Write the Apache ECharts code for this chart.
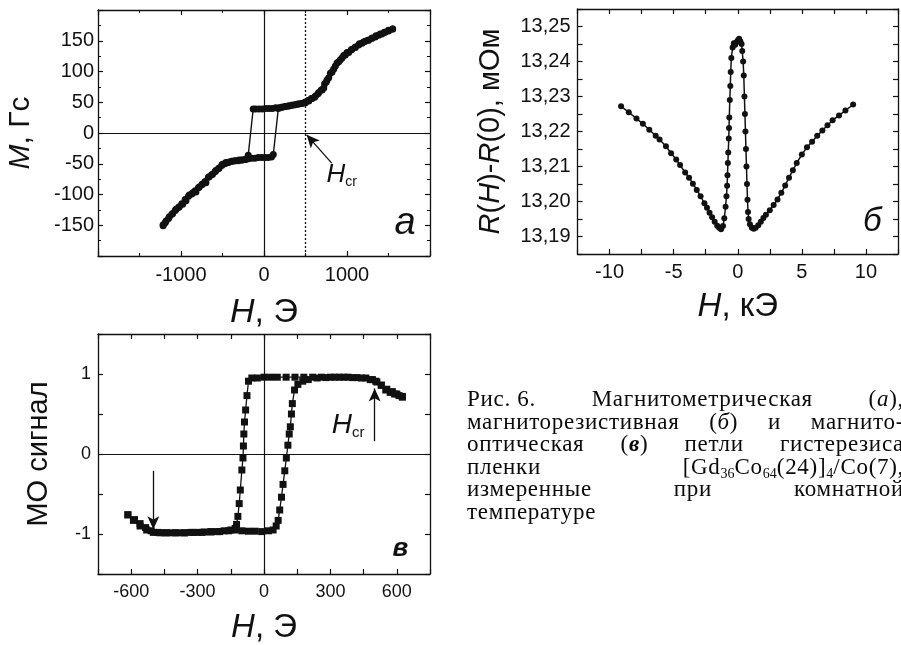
<!DOCTYPE html>
<html><head><meta charset="utf-8">
<script src="https://cdn.jsdelivr.net/npm/echarts@6/dist/echarts.min.js"></script>
<style>
html,body{margin:0;padding:0;background:#fff;overflow:hidden;width:901px;height:645px;}
#chart{position:absolute;left:0;top:0;width:901px;height:645px;}
#cap{position:absolute;left:467px;top:388px;width:437px;font-family:"Liberation Serif","DejaVu Serif",serif;font-size:23px;letter-spacing:0.7px;line-height:22.6px;color:#0a0a0a;}
#cap .j{text-align:justify;text-align-last:justify;}
#cap .k{display:inline-block;}
#cap sub{font-size:14px;vertical-align:-4px;line-height:0;letter-spacing:0;}
</style></head>
<body>
<div id="chart"></div>
<div id="cap">
<div class="j"><span class="k">Рис. 6.</span> Магнитометрическая (<i>а</i>),</div>
<div class="j">магниторезистивная (<i>б</i>) и магнито-</div>
<div class="j">оптическая (<b><i>в</i></b>) петли гистерезиса</div>
<div class="j">пленки [Gd<sub>36</sub>Co<sub>64</sub>(24)]<sub>4</sub>/Co(7),</div>
<div class="j">измеренные при комнатной</div>
<div>температуре</div>
</div>
<script>
// ---- panel а: magnetometric loop (H, Э ; M, Гс)
const aDownH = [1550,1500,1450,1400,1350,1300,1250,1200,1150,1100,1050,1000,960,920,880,840,800,760,730,700,660,620,580,540,500,460,420,380,340,300,260,220,180,140,100,60,20,-20,-60,-100,-130,-190,-230,-270,-310,-350,-390,-430,-470,-510,-550,-590,-630,-670,-710,-750,-790,-830,-870,-910,-950,-990,-1030,-1070,-1110,-1150,-1190,-1215];
const aDownM = [169,167,164,161,158,154,151,148,145,140,135,131,126,119,114,104,97,86,80,70,66,60,56,52,49,48,47,46,45,44,43,42,41,41,40,40,40,39,39,39,39,-36,-43,-44,-45,-45,-46,-48,-50,-53,-58,-63,-68,-72,-79,-84,-89,-94,-99,-103,-108,-115,-121,-126,-132,-139,-146,-151];
const aUpH = [-1215,-1180,-1140,-1100,-1060,-1020,-980,-940,-900,-860,-820,-780,-740,-700,-660,-620,-580,-540,-500,-460,-420,-380,-340,-300,-260,-220,-190,-150,-110,-70,-30,10,50,90,112,173,210,250,290,330,370,410,450,490,530,570,610,650,690,720,750,780,820,860,900,940,980,1020,1060,1100,1140,1180,1220,1260,1300,1340,1380,1420,1460,1500,1550];
const aUpM = [-149,-143,-136,-131,-124,-120,-116,-110,-101,-97,-96,-88,-83,-81,-71,-67,-61,-57,-51,-48,-47,-46,-45,-44,-44,-43,-42,-41,-41,-40,-40,-40,-40,-39,-35,40,42,43,44,45,46,47,48,50,53,56,58,64,70,73,83,90,99,109,116,122,127,131,136,139,143,146,149,151,154,156,159,161,164,166,169];
const aXTicks = [-1000, 0, 1000];
const aYTicks = [-150, -100, -50, 0, 50, 100, 150];
const aHcr = 500;

// ---- panel б: magnetoresistance (H, кЭ ; R, мОм)
const bH = [-9.1,-8.5,-7.9,-7.4,-6.9,-6.4,-6.1,-5.6,-5.2,-4.8,-4.5,-4.1,-3.8,-3.5,-3.2,-2.9,-2.6,-2.4,-2.2,-2.0,-1.8,-1.6,-1.45,-1.3,-1.15,-1.05,-0.95,-0.88,-0.83,-0.8,-0.77,-0.74,-0.7,-0.68,-0.66,-0.62,-0.58,-0.55,-0.5,-0.4,-0.3,-0.2,-0.1,0,0.1,0.2,0.3,0.35,0.42,0.47,0.52,0.56,0.6,0.64,0.68,0.72,0.76,0.8,0.85,0.95,1.1,1.25,1.4,1.6,1.8,2.0,2.2,2.5,2.8,3.1,3.4,3.7,4.0,4.3,4.6,5.0,5.4,5.8,6.2,6.6,7.0,7.4,7.9,8.4,9.0];
const bR = [13.2272,13.2255,13.2237,13.2222,13.2205,13.2188,13.2177,13.2158,13.2138,13.2120,13.2104,13.2083,13.2068,13.2051,13.2033,13.2015,13.1995,13.1982,13.1968,13.1955,13.1942,13.1931,13.1925,13.1921,13.1930,13.1952,13.1985,13.2015,13.2045,13.2075,13.2110,13.2140,13.2180,13.2210,13.2240,13.2290,13.2330,13.2370,13.2410,13.2440,13.2452,13.2448,13.2455,13.2460,13.2465,13.2458,13.2450,13.2430,13.2400,13.2360,13.2300,13.2250,13.2200,13.2150,13.2100,13.2050,13.2005,13.1970,13.1950,13.1935,13.1925,13.1922,13.1925,13.1932,13.1942,13.1953,13.1962,13.1975,13.1990,13.2006,13.2025,13.2046,13.2068,13.2089,13.2110,13.2134,13.2155,13.2171,13.2188,13.2203,13.2218,13.2232,13.2246,13.2260,13.2277];
const bXTicks = [-10, -5, 0, 5, 10];
const bYTicks = [13.19, 13.20, 13.21, 13.22, 13.23, 13.24, 13.25];

// ---- panel в: magneto-optical loop (H, Э ; signal)
const cDownH = [625,610,590,570,550,530,510,490,460,420,380,340,300,260,220,180,140,100,60,30,0,-30,-55,-70,-77,-83,-88,-91,-93,-95,-100,-107,-112,-118,-124,-130,-150,-180,-210,-240,-270,-300,-330,-360,-390,-420,-450,-480,-510,-535,-560,-585,-615];
const cDownS = [0.71,0.73,0.75,0.77,0.80,0.86,0.90,0.93,0.95,0.955,0.96,0.96,0.96,0.96,0.96,0.96,0.96,0.96,0.96,0.96,0.96,0.95,0.95,0.91,0.73,0.55,0.40,0.25,0.10,-0.05,-0.20,-0.45,-0.62,-0.78,-0.88,-0.93,-0.95,-0.96,-0.97,-0.97,-0.975,-0.98,-0.98,-0.985,-0.985,-0.985,-0.985,-0.98,-0.96,-0.92,-0.87,-0.82,-0.76];
const cUpH = [-615,-590,-560,-530,-500,-470,-440,-400,-360,-320,-280,-240,-200,-160,-130,-100,-70,-40,-10,20,41,55,64,71,79,86,94,101,108,114,119,124,128,138,153,175,200,240,280,320,360,400,440,480,505,530,555,580,600,625];
const cUpS = [-0.76,-0.83,-0.90,-0.95,-0.98,-0.985,-0.985,-0.985,-0.985,-0.98,-0.98,-0.975,-0.97,-0.96,-0.95,-0.96,-0.965,-0.965,-0.97,-0.96,-0.95,-0.90,-0.83,-0.70,-0.54,-0.38,-0.21,-0.05,0.11,0.25,0.34,0.50,0.63,0.80,0.87,0.91,0.93,0.95,0.955,0.96,0.96,0.955,0.95,0.93,0.91,0.86,0.81,0.78,0.75,0.72];
const cXTicks = [-600, -300, 0, 300, 600];
const cYTicks = [-1, 0, 1];
const cHcr = 500;

const INK = '#111';
const SANS = '"Liberation Sans", Arial, sans-serif';
const zip = (xs, ys) => xs.map((x, i) => [x, ys[i]]);
const pick = (ticks, fmt) => v => ticks.some(t => Math.abs(t - v) < 1e-7) ? fmt(v) : '';
const plain = v => String(v);
const comma = v => v.toFixed(2).replace('.', ',');

function baseAxis(grid, pos, min, max, interval, minor, isMain, ticks, fmt, fs, margin) {
  return {
    type: 'value', gridIndex: grid, position: pos, min, max, interval,
    axisLine: { show: true, onZero: false, lineStyle: { color: INK, width: 1.3 } },
    axisTick: { show: true, inside: true, length: 5, lineStyle: { color: INK, width: 1.2 } },
    minorTick: { show: minor > 1, splitNumber: minor || 2, length: 3, lineStyle: { color: INK, width: 1 } },
    splitLine: { show: false }, minorSplitLine: { show: false },
    axisLabel: isMain ? { show: true, formatter: pick(ticks, fmt), fontFamily: SANS, fontSize: fs, color: INK, margin } : { show: false }
  };
}
function named(ax, name, gap, fs) {
  ax.name = name; ax.nameLocation = 'middle'; ax.nameGap = gap;
  ax.nameTextStyle = { fontFamily: SANS, fontSize: fs, color: INK,
    rich: { i: { fontFamily: SANS, fontSize: fs, fontStyle: 'italic', color: INK } } };
  return ax;
}
const richHcr = (hs, ss, pad) => ({
  h: { fontFamily: SANS, fontSize: hs, fontStyle: 'italic', color: INK },
  s: { fontFamily: SANS, fontSize: ss, color: INK, padding: [pad, 0, 0, 0] }
});
const hidden = { symbol: 'rect', symbolSize: 1, itemStyle: { color: 'rgba(0,0,0,0)' } };

const xAxis = [
  named(baseAxis(0, 'bottom', -2000, 2000, 1000, 2, true, aXTicks, plain, 20, 9), '{i|H}, Э', 40, 34),
  baseAxis(0, 'top', -2000, 2000, 1000, 2, false),
  named(baseAxis(1, 'bottom', -12.5, 12.5, 2.5, 0, true, bXTicks, plain, 20, 8), '{i|H}, кЭ', 36, 33),
  baseAxis(1, 'top', -12.5, 12.5, 2.5, 0, false),
  named(baseAxis(2, 'bottom', -750, 750, 150, 0, true, cXTicks, plain, 18, 9), '{i|H}, Э', 37, 33),
  baseAxis(2, 'top', -750, 750, 150, 0, false)
];
const yAxis = [
  named(baseAxis(0, 'left', -200, 200, 50, 2, true, aYTicks, plain, 20, 4), '{i|M}, Гс', 62, 30),
  baseAxis(0, 'right', -200, 200, 50, 2, false),
  named(baseAxis(1, 'left', 13.185, 13.255, 0.005, 0, true, bYTicks, comma, 20, 7), '{i|R}({i|H})-{i|R}(0), мОм', 72, 29),
  baseAxis(1, 'right', 13.185, 13.255, 0.005, 0, false),
  named(baseAxis(2, 'left', -1.5, 1.5, 0.5, 0, true, cYTicks, plain, 18, 7), 'МО сигнал', 45, 29),
  baseAxis(2, 'right', -1.5, 1.5, 0.5, 0, false)
];

const zeroLine = { lineStyle: { color: INK, width: 1.2, type: 'solid' } };
const arrowPair = (p0, p1) => [
  { coord: p0, symbol: 'none', lineStyle: { color: INK, width: 1.3, type: 'solid' } },
  { coord: p1, symbol: 'arrow', symbolSize: [9, 13] }
];

const lineStyleA = { color: INK, width: 1.4 };
const series = [
  {
    type: 'line', xAxisIndex: 0, yAxisIndex: 0, data: zip(aDownH, aDownM),
    symbol: 'circle', symbolSize: 7, showSymbol: true, lineStyle: lineStyleA, itemStyle: { color: INK },
    markLine: {
      silent: true, symbol: ['none', 'none'], label: { show: false }, animation: false,
      data: [
        Object.assign({ xAxis: 0 }, zeroLine),
        Object.assign({ yAxis: 0 }, zeroLine),
        { xAxis: aHcr, lineStyle: { color: INK, width: 1.3, type: [2, 2] } },
        arrowPair([816, -49], [514, -3])
      ]
    },
    markPoint: {
      silent: true, animation: false,
      data: [
        Object.assign({ coord: [935, -68], label: { show: true, position: 'inside', formatter: '{h|H}{s|cr}', rich: richHcr(26, 14, 14) } }, hidden),
        Object.assign({ coord: [1700, -147], label: { show: true, position: 'inside', formatter: 'а', fontFamily: SANS, fontSize: 38, fontStyle: 'italic', color: INK } }, hidden)
      ]
    }
  },
  {
    type: 'line', xAxisIndex: 0, yAxisIndex: 0, data: zip(aUpH, aUpM),
    symbol: 'circle', symbolSize: 7, lineStyle: lineStyleA, itemStyle: { color: INK }
  },
  {
    type: 'line', xAxisIndex: 2, yAxisIndex: 2, data: zip(bH, bR),
    symbol: 'circle', symbolSize: 6, lineStyle: { color: INK, width: 1.5 }, itemStyle: { color: INK },
    markPoint: {
      silent: true, animation: false,
      data: [
        Object.assign({ coord: [10.5, 13.1942], label: { show: true, position: 'inside', formatter: 'б', fontFamily: SANS, fontSize: 33, fontStyle: 'italic', color: INK } }, hidden)
      ]
    }
  },
  {
    type: 'line', xAxisIndex: 4, yAxisIndex: 4, data: zip(cDownH, cDownS),
    symbol: 'rect', symbolSize: 7, lineStyle: { color: INK, width: 1.3 }, itemStyle: { color: INK },
    markLine: {
      silent: true, symbol: ['none', 'none'], label: { show: false }, animation: false,
      data: [
        Object.assign({ xAxis: 0 }, zeroLine),
        Object.assign({ yAxis: 0 }, zeroLine),
        arrowPair([cHcr, 0.16], [cHcr, 0.82]),
        arrowPair([-cHcr, -0.21], [-cHcr, -0.94])
      ]
    },
    markPoint: {
      silent: true, animation: false,
      data: [
        Object.assign({ coord: [380, 0.36], label: { show: true, position: 'inside', formatter: '{h|H}{s|cr}', rich: richHcr(28, 15, 16) } }, hidden),
        Object.assign({ coord: [616, -1.19], label: { show: true, position: 'inside', formatter: 'в', fontFamily: SANS, fontSize: 26, fontStyle: 'italic', fontWeight: 'bold', color: INK } }, hidden)
      ]
    }
  },
  {
    type: 'line', xAxisIndex: 4, yAxisIndex: 4, data: zip(cUpH, cUpS),
    symbol: 'rect', symbolSize: 7, lineStyle: { color: INK, width: 1.3 }, itemStyle: { color: INK }
  }
];

xAxis.forEach((a, i) => { a.gridIndex = Math.floor(i / 2); });
yAxis.forEach((a, i) => { a.gridIndex = Math.floor(i / 2); });
series.forEach(s => { s.animation = false; s.clip = false; });

const chart = echarts.init(document.getElementById('chart'), null, { renderer: 'canvas' });
chart.setOption({
  backgroundColor: '#fff',
  animation: false,
  grid: [
    { left: 98, top: 10, width: 332, height: 246 },
    { left: 577.5, top: 9, width: 325, height: 245 },
    { left: 98, top: 334, width: 332, height: 244 }
  ],
  xAxis, yAxis, series
});
</script>
</body></html>
